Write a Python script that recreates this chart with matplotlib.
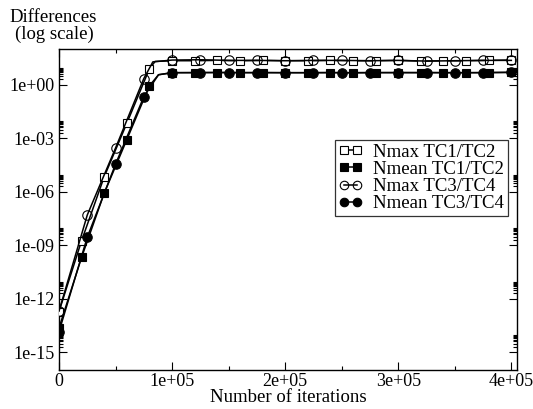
import matplotlib
matplotlib.use("Agg")
import matplotlib.pyplot as plt
from matplotlib.ticker import FixedLocator, FixedFormatter, MultipleLocator
from matplotlib.lines import Line2D

plt.rcParams['font.family'] = ['Liberation Serif', 'DejaVu Serif']
plt.rcParams['font.size'] = 13.5

# ---- data ----
series_labels = ["Nmax TC1/TC2", "Nmean TC1/TC2", "Nmax TC3/TC4", "Nmean TC3/TC4"]

# Nmax TC1/TC2 (open squares, every 2e4; index 5 is the corner point, no marker)
nmax12_x = [0, 2e4, 4e4, 6e4, 8e4, 8.5e4, 1e5, 1.2e5, 1.4e5, 1.6e5, 1.8e5, 2e5, 2.2e5,
            2.4e5, 2.6e5, 2.8e5, 3e5, 3.2e5, 3.4e5, 3.6e5, 3.8e5, 4e5]
nmax12_y = [1.9e-13, 1.8e-9, 6.9e-6, 6.9e-3, 7.9, 20, 22, 22, 23, 22, 23, 22, 22,
            23, 22, 22, 23, 21, 22, 22, 23, 24]

# Nmean TC1/TC2 (filled squares)
nmean12_x = [0, 2e4, 4e4, 6e4, 8e4, 8.8e4, 1e5, 1.2e5, 1.4e5, 1.6e5, 1.8e5, 2e5, 2.2e5,
             2.4e5, 2.6e5, 2.8e5, 3e5, 3.2e5, 3.4e5, 3.6e5, 3.8e5, 4e5]
nmean12_y = [2.3e-14, 2.1e-10, 8.3e-7, 8.3e-4, 0.87, 3.6, 4.7, 4.7, 4.8, 4.7, 4.8, 4.7, 4.7,
             4.8, 4.6, 4.7, 4.8, 4.7, 4.7, 4.7, 4.8, 4.9]

# Nmax TC3/TC4 (open circles, every 2.5e4; index 4 is the corner point)
nmax34_x = [0, 2.5e4, 5e4, 7.5e4, 8.3e4, 1e5, 1.25e5, 1.5e5, 1.75e5, 2e5, 2.25e5, 2.5e5,
            2.75e5, 3e5, 3.25e5, 3.5e5, 3.75e5, 4e5]
nmax34_y = [2.0e-13, 4.9e-8, 2.8e-4, 2.2, 19, 24, 25, 23, 23, 22, 23, 23,
            22, 23, 21, 22, 23, 23]

# Nmean TC3/TC4 (filled circles)
nmean34_x = [0, 2.5e4, 5e4, 7.5e4, 8.8e4, 1e5, 1.25e5, 1.5e5, 1.75e5, 2e5, 2.25e5, 2.5e5,
             2.75e5, 3e5, 3.25e5, 3.5e5, 3.75e5, 4e5]
nmean34_y = [1.4e-14, 2.8e-9, 3.5e-5, 0.21, 3.6, 4.7, 4.8, 4.8, 4.7, 4.7, 4.7, 4.7,
             4.8, 4.7, 4.8, 4.7, 4.7, 4.9]

x_tick_vals = [0, 1e5, 2e5, 3e5, 4e5]
x_tick_labels = ["0", "1e+05", "2e+05", "3e+05", "4e+05"]
y_tick_vals = [1e-15, 1e-12, 1e-9, 1e-6, 1e-3, 1e0]
y_tick_labels = ["1e-15", "1e-12", "1e-09", "1e-06", "1e-03", "1e+00"]

# ---- figure ----
W, H = 533, 409
fig = plt.figure(figsize=(W / 100, H / 100), dpi=100)
L, R, T, B = 59, 517, 49, 370
ax = fig.add_axes([L / W, 1 - B / H, (R - L) / W, (B - T) / H])

def idx_without(n, skip):
    return [i for i in range(n) if i != skip]

lw = 1.1
ms = 6.0
mew = 0.8
styles = [
    dict(marker='s', ms=ms, mfc='white'),
    dict(marker='s', ms=ms, mfc='black'),
    dict(marker='o', ms=ms + 0.8, mfc='none'),
    dict(marker='o', ms=ms + 0.8, mfc='black'),
]
data = [(nmax12_x, nmax12_y, 5), (nmean12_x, nmean12_y, 5),
        (nmax34_x, nmax34_y, 4), (nmean34_x, nmean34_y, 4)]
handles = []
for (xs, ys, corner), st, lab in zip(data, styles, series_labels):
    ax.plot(xs, ys, '-', color='black', lw=lw, mec='black', mew=mew,
            markevery=idx_without(len(xs), corner), zorder=3, **st)
    handles.append(Line2D([], [], color='black', lw=lw, mec='black', mew=mew,
                          label=lab, **st))

ax.set_yscale('log')
ax.set_xlim(0, 4.05e5)
ax.set_ylim(1e-16, 1e2)

ax.xaxis.set_major_locator(FixedLocator(x_tick_vals))
ax.xaxis.set_major_formatter(FixedFormatter(x_tick_labels))
ax.xaxis.set_minor_locator(MultipleLocator(5e4))
ax.yaxis.set_major_locator(FixedLocator(y_tick_vals))
ax.yaxis.set_major_formatter(FixedFormatter(y_tick_labels))
minor_y = [k * v for v in y_tick_vals for k in range(2, 10)]
ax.yaxis.set_minor_locator(FixedLocator(minor_y))
ax.yaxis.set_minor_formatter(FixedFormatter([""] * len(minor_y)))

ax.tick_params(which='both', direction='in', top=True, right=True, width=0.8)
ax.tick_params(which='major', length=6, pad=3, labelsize=13)
ax.tick_params(axis='x', which='major', pad=2)
ax.tick_params(which='minor', length=3)
for s in ax.spines.values():
    s.set_linewidth(1.0)

leg = ax.legend(handles=handles, loc='upper right',
                bbox_to_anchor=((508 - L) / (R - L), (B - 140) / (B - T)),
                numpoints=2, handlelength=1.3, handletextpad=0.55, labelspacing=0.0,
                borderpad=0.2, borderaxespad=0, fancybox=False, frameon=True,
                fontsize=13.5, markerscale=0.9)
leg.get_frame().set_edgecolor('black')
leg.get_frame().set_linewidth(0.9)

fig.text(53.5 / W, 1 - 22 / H, "Differences", ha='center', va='baseline', fontsize=13.5)
fig.text(54 / W, 1 - 38.5 / H, "(log scale)", ha='center', va='baseline', fontsize=13.5)
fig.text(288 / W, 1 - 402 / H, "Number of iterations", ha='center', va='baseline', fontsize=13.5)

fig.savefig("out.png", dpi=100)
